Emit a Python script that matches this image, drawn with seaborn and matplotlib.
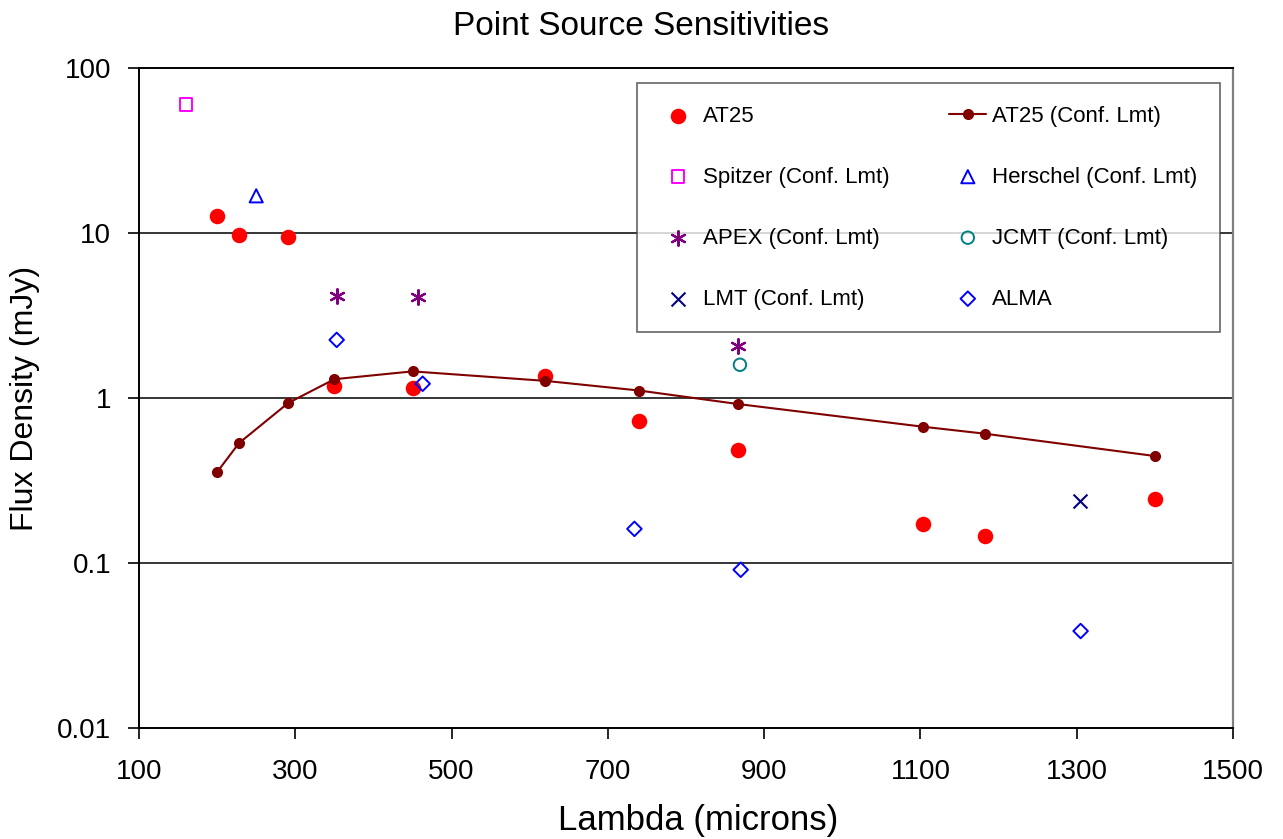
import matplotlib
matplotlib.use('Agg')
import matplotlib.pyplot as plt
import matplotlib.ticker as mticker
import seaborn as sns

# ---- data ----
at25_x = [200, 228, 291, 350, 450, 620, 740, 866, 1103, 1182, 1400]
at25_y = [12.7, 9.7, 9.5, 1.19, 1.15, 1.36, 0.726, 0.484, 0.172, 0.145, 0.243]
conf_y = [0.356, 0.533, 0.933, 1.30, 1.45, 1.27, 1.11, 0.92, 0.670, 0.608, 0.445]
spitzer_x = [160]
spitzer_y = [60]
herschel_x = [250]
herschel_y = [16.8]
apex_x = [353, 457, 866]
apex_y = [4.17, 4.07, 2.07]
jcmt_x = [869]
jcmt_y = [1.59]
lmt_x = [1304]
lmt_y = [0.239]
alma_x = [353, 463, 734, 870, 1305]
alma_y = [2.25, 1.22, 0.161, 0.091, 0.0387]

x_ticks = [100, 300, 500, 700, 900, 1100, 1300, 1500]
y_ticks = [0.01, 0.1, 1, 10, 100]
y_tick_labels = ['0.01', '0.1', '1', '10', '100']

sns.set_style('white')
plt.rcParams['font.family'] = ['Liberation Sans', 'DejaVu Sans']
plt.rcParams['text.color'] = 'black'
plt.rcParams['axes.labelcolor'] = 'black'
plt.rcParams['xtick.color'] = 'black'
plt.rcParams['ytick.color'] = 'black'

fig = plt.figure(figsize=(12.83, 8.39), dpi=100)
ax = fig.add_axes([139 / 1283, 1 - 728 / 839, 1094 / 1283, 660 / 839])

sns.scatterplot(x=at25_x, y=at25_y, ax=ax, color='#FF0000', marker='o', s=125,
                linewidth=0, label='AT25', zorder=3)
sns.lineplot(x=at25_x, y=conf_y, ax=ax, color='#800000', marker='o', markersize=8,
             markeredgewidth=0, linewidth=1.5, label='AT25 (Conf. Lmt)', zorder=4)
sns.scatterplot(x=spitzer_x, y=spitzer_y, ax=ax, color='#FF00FF', facecolor='none',
                edgecolor='#FF00FF', marker='s', s=80, linewidth=1.4,
                label='Spitzer (Conf. Lmt)', zorder=3)
sns.scatterplot(x=herschel_x, y=herschel_y, ax=ax, color='#0000FF', facecolor='none',
                edgecolor='#0000FF', marker='^', s=90, linewidth=1.4,
                label='Herschel (Conf. Lmt)', zorder=3)
sns.scatterplot(x=apex_x, y=apex_y, ax=ax, color='#800080', edgecolor='#800080',
                marker=(6, 2, 0), s=110, linewidth=1.6, label='APEX (Conf. Lmt)', zorder=3)
sns.scatterplot(x=jcmt_x, y=jcmt_y, ax=ax, color='#008080', facecolor='none',
                edgecolor='#008080', marker='o', s=80, linewidth=1.4,
                label='JCMT (Conf. Lmt)', zorder=3)
sns.scatterplot(x=lmt_x, y=lmt_y, ax=ax, color='#000080', edgecolor='#000080',
                marker='x', s=100, linewidth=1.5, label='LMT (Conf. Lmt)', zorder=3)
sns.scatterplot(x=alma_x, y=alma_y, ax=ax, color='#0000FF', facecolor='none',
                edgecolor='#0000FF', marker='D', s=55, linewidth=1.4,
                label='ALMA', zorder=5)

ax.set_yscale('log')
ax.set_xlim(100, 1500)
ax.set_ylim(0.01, 100)
ax.set_xticks(x_ticks)
ax.set_xticklabels([str(v) for v in x_ticks])
ax.yaxis.set_major_locator(mticker.FixedLocator(y_ticks))
ax.yaxis.set_minor_locator(mticker.NullLocator())
ax.set_yticklabels(y_tick_labels)
ax.tick_params(axis='both', which='major', labelsize=20, direction='out',
               length=8, width=1.2, color='black', left=True, bottom=True)
ax.tick_params(axis='x', pad=14)
ax.tick_params(axis='y', pad=12)

for yv in [0.1, 1, 10]:
    ax.axhline(yv, color='black', linewidth=1.1, zorder=1)

for side in ['left', 'bottom', 'top']:
    ax.spines[side].set_color('black')
    ax.spines[side].set_linewidth(1.4)
ax.spines['right'].set_color('#808080')
ax.spines['right'].set_linewidth(1.6)

ax.set_xlabel('Lambda (microns)', fontsize=25)
ax.xaxis.set_label_coords((698 - 139) / 1094, -(804 - 728) / 660)
ax.set_ylabel('Flux Density (mJy)', fontsize=23)
ax.yaxis.set_label_coords(-(139 - 40) / 1094, 0.5)
fig.text(0.5, 1 - 35 / 839, 'Point Source Sensitivities', fontsize=24,
         ha='center', va='baseline')

handles, labels = ax.get_legend_handles_labels()
order = ['AT25', 'Spitzer (Conf. Lmt)', 'APEX (Conf. Lmt)', 'LMT (Conf. Lmt)',
         'AT25 (Conf. Lmt)', 'Herschel (Conf. Lmt)', 'JCMT (Conf. Lmt)', 'ALMA']
hmap = dict(zip(labels, handles))
leg = ax.legend([hmap[k] for k in order], order, ncol=2, loc='upper left',
                bbox_to_anchor=((637.3 - 139) / 1094, 1 - (83.3 - 68) / 660),
                fontsize=16, frameon=True, fancybox=False, borderpad=1.0,
                labelspacing=1.8, handlelength=1.67, handletextpad=0.27,
                borderaxespad=0, columnspacing=2.7)
leg.get_frame().set_edgecolor('#404040')
leg.get_frame().set_linewidth(1.2)
leg.set_zorder(10)

fig.savefig('out.png', dpi=100, facecolor='white')
